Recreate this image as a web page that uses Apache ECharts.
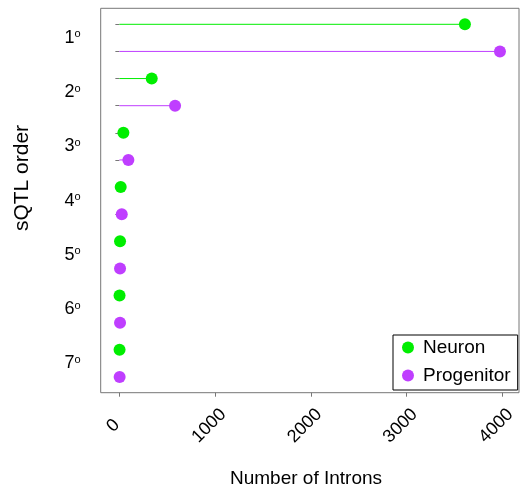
<!DOCTYPE html>
<html>
<head>
<meta charset="utf-8">
<script src="https://cdn.jsdelivr.net/npm/echarts@6/dist/echarts.min.js"></script>
<style>html,body{margin:0;padding:0;background:#fff}#c{width:521px;height:490px}</style>
</head>
<body>
<div id="c"></div>
<script>
const orders = ['1', '2', '3', '4', '5', '6', '7'];
const neuron = [3610, 338, 42, 14, 7, 2, 2];
const progenitor = [3976, 582, 94, 25, 7, 7, 3];
const xTicks = [0, 1000, 2000, 3000, 4000];
const seriesNames = ['Neuron', 'Progenitor'];
const colors = ['#00ee00', '#bf3eff'];

const FONT = 'Liberation Sans, Arial, sans-serif';

function lollipop(name, values, offset, color) {
  return {
    name: name,
    type: 'custom',
    itemStyle: { color: color },
    encode: { x: 0, y: 1 },
    data: values.map((v, i) => [v, 2 * i + offset]),
    renderItem: function (params, api) {
      const x = api.value(0), y = api.value(1);
      const p0 = api.coord([0, y]);
      const p1 = api.coord([x, y]);
      return {
        type: 'group',
        children: [
          { type: 'line', shape: { x1: p0[0], y1: p0[1], x2: p1[0], y2: p1[1] },
            style: { stroke: color, lineWidth: 1 } },
          { type: 'circle', shape: { cx: p1[0], cy: p1[1], r: 6 },
            style: { fill: color } }
        ]
      };
    }
  };
}

const chart = echarts.init(document.getElementById('c'));
chart.setOption({
  animation: false,
  backgroundColor: '#fff',
  grid: {
    left: 100.7, top: 8.3, right: 2, bottom: 97.3,
    show: true, borderColor: '#777', borderWidth: 1, backgroundColor: 'transparent'
  },
  xAxis: {
    type: 'value',
    min: -195, max: 4175,
    axisLine: { show: false },
    splitLine: { show: false },
    axisTick: { show: true, length: 4, lineStyle: { color: '#777' }, customValues: xTicks },
    axisLabel: {
      customValues: xTicks, rotate: 45, margin: 27,
      align: 'center', verticalAlign: 'middle',
      padding: [0, 17, 16, 0],
      formatter: function (v) { return String(v); },
      fontSize: 18, fontFamily: FONT, color: '#000'
    }
  },
  yAxis: {
    type: 'value',
    inverse: true,
    min: 0.41, max: 14.58,
    axisLine: { show: false },
    splitLine: { show: false },
    axisTick: { show: true, length: 4, lineStyle: { color: '#777' },
      customValues: [1,2,3,4,5,6,7,8,9,10,11,12,13,14] },
    axisLabel: {
      customValues: orders.map((o, i) => 2 * i + 1.5),
      margin: 20,
      formatter: function (v) {
        const idx = Math.round((v - 1.5) / 2);
        return '{n|' + orders[idx] + '}{s|o}';
      },
      rich: {
        n: { fontSize: 18, fontFamily: FONT, color: '#000' },
        s: { fontSize: 11, fontFamily: FONT, color: '#000', verticalAlign: 'top' }
      }
    }
  },
  legend: {
    orient: 'vertical',
    left: 393, top: 335,
    data: seriesNames.map(n => ({ name: n, icon: 'circle' })),
    itemWidth: 12, itemHeight: 12,
    itemGap: 9,
    padding: [3, 7, 5, 9],
    borderColor: '#000', borderWidth: 1, backgroundColor: '#fff',
    textStyle: { fontSize: 19, fontFamily: FONT, color: '#000', padding: [0, 0, 0, 4] }
  },
  graphic: [
    { type: 'text', x: 22, y: 178, rotation: Math.PI / 2,
      style: { text: 'sQTL order', fontSize: 21, fontFamily: FONT, fill: '#000',
        align: 'center', verticalAlign: 'middle' } },
    { type: 'text', x: 306, y: 479,
      style: { text: 'Number of Introns', fontSize: 19, fontFamily: FONT, fill: '#000',
        align: 'center', verticalAlign: 'middle' } }
  ],
  series: [
    lollipop(seriesNames[0], neuron, 1, colors[0]),
    lollipop(seriesNames[1], progenitor, 2, colors[1])
  ]
});
</script>
</body>
</html>
